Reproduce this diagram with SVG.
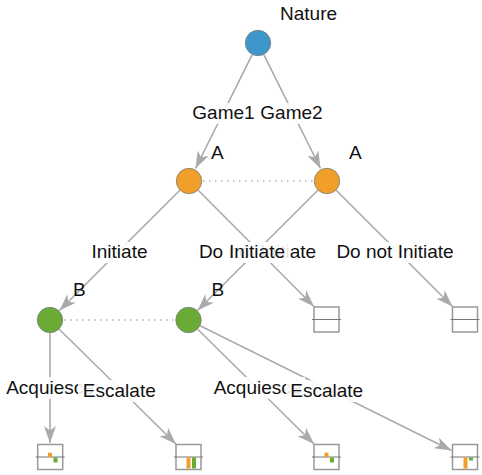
<svg xmlns="http://www.w3.org/2000/svg" width="482" height="475" viewBox="0 0 482 475">
<defs>
<marker id="arr" viewBox="0 0 17 12" refX="17" refY="6" markerWidth="17" markerHeight="12" markerUnits="userSpaceOnUse" orient="auto">
<path d="M0,0 L17,6 L0,12 L4.5,6 Z" fill="#aaaaaa"/>
</marker>
<style>
.e{stroke:#aaaaaa;stroke-width:1.6;fill:none;marker-end:url(#arr)}
.d{stroke:#b0b0b0;stroke-width:1.7;stroke-dasharray:1.5 4.5;fill:none}
.t{font-family:"Liberation Sans",Arial,sans-serif;font-size:19px;fill:#111}
.lb{fill:#ffffff;fill-opacity:0.88}
.n{stroke:#7a7a7a;stroke-width:0.8}
.nat{fill:#3d97cb}
.pa{fill:#f0a02a}
.pb{fill:#6aab35}
.box{fill:#ffffff;stroke:#999999;stroke-width:1.5}
.ax{stroke:#777777;stroke-width:1}
.o{fill:#f0a02a}
.g{fill:#6aab35}
</style>
</defs>
<g id="connectors">
<line class="d" x1="203" y1="181" x2="313" y2="181"/>
<line class="d" x1="64" y1="320" x2="175" y2="320"/>
<line class="e" x1="252.2" y1="54.6" x2="195.5" y2="168.5"/>
<line class="e" x1="263.8" y1="54.6" x2="320.5" y2="168.5"/>
<line class="e" x1="179.8" y1="190.2" x2="59.5" y2="310.5"/>
<line class="e" x1="198.2" y1="190.2" x2="314" y2="306.5"/>
<line class="e" x1="317.8" y1="190.2" x2="197.5" y2="310.5"/>
<line class="e" x1="336.2" y1="190.2" x2="452.5" y2="306.5"/>
<line class="e" x1="50" y1="333" x2="50" y2="443"/>
<line class="e" x1="59.2" y1="329.2" x2="176" y2="444"/>
<line class="e" x1="197.7" y1="329.2" x2="314" y2="444"/>
<line class="e" x1="200.1" y1="325.8" x2="451.5" y2="450.5"/>
</g>
<g id="edge-labels">
<rect class="lb" x="189" y="103" width="67" height="21"/>
<text class="t" x="223.5" y="119" text-anchor="middle">Game1</text>
<rect class="lb" x="257" y="103" width="68" height="21"/>
<text class="t" x="291.5" y="119" text-anchor="middle">Game2</text>
<rect class="lb" x="87" y="242" width="65" height="21"/>
<text class="t" x="119.5" y="258" text-anchor="middle">Initiate</text>
<rect class="lb" x="193" y="242" width="129" height="21"/>
<text class="t" x="257.5" y="258" text-anchor="middle">Do not Initiate</text>
<rect class="lb" x="225" y="242" width="64" height="21"/>
<text class="t" x="257" y="258" text-anchor="middle">Initiate</text>
<rect class="lb" x="331" y="242" width="128" height="21"/>
<text class="t" x="395" y="258" text-anchor="middle">Do not Initiate</text>
<rect class="lb" x="3" y="377" width="94" height="22"/>
<text class="t" x="50" y="393.5" text-anchor="middle">Acquiesce</text>
<rect class="lb" x="78" y="380" width="82" height="22"/>
<text class="t" x="119.3" y="396.7" text-anchor="middle">Escalate</text>
<rect class="lb" x="211" y="377" width="94" height="22"/>
<text class="t" x="257.5" y="393.5" text-anchor="middle">Acquiesce</text>
<rect class="lb" x="286" y="380" width="82" height="22"/>
<text class="t" x="326.7" y="396.7" text-anchor="middle">Escalate</text>
</g>
<g id="nature">
<circle class="n nat" cx="258" cy="43" r="12.7"/>
<text class="t" x="280" y="20">Nature</text>
</g>
<g id="A1">
<circle class="n pa" cx="189" cy="181" r="12.7"/>
<text class="t" x="211" y="159.3">A</text>
</g>
<g id="A2">
<circle class="n pa" cx="327" cy="181" r="12.7"/>
<text class="t" x="349" y="159.3">A</text>
</g>
<g id="B1">
<circle class="n pb" cx="50" cy="320" r="12.7"/>
<text class="t" x="73" y="296">B</text>
</g>
<g id="B2">
<circle class="n pb" cx="188.5" cy="320" r="12.7"/>
<text class="t" x="211.5" y="296">B</text>
</g>
<g id="T1">
<rect class="box" x="314" y="307" width="25" height="25"/>
<line class="ax" x1="312" y1="319.5" x2="341" y2="319.5"/>
</g>
<g id="T2">
<rect class="box" x="452.5" y="307" width="25" height="25"/>
<line class="ax" x1="450.5" y1="319.5" x2="479.5" y2="319.5"/>
</g>
<g id="T3">
<rect class="box" x="37.7" y="444.5" width="25" height="25"/>
<line class="ax" x1="35.7" y1="457" x2="64.7" y2="457"/>
<rect class="o" x="48" y="452.7" width="4" height="4.3"/>
<rect class="g" x="53.5" y="457.5" width="4" height="5"/>
</g>
<g id="T4">
<rect class="box" x="176" y="444.5" width="25" height="25"/>
<line class="ax" x1="174" y1="457" x2="203" y2="457"/>
<rect class="o" x="186.5" y="457.5" width="4" height="11"/>
<rect class="g" x="192" y="457.5" width="4" height="11"/>
</g>
<g id="T5">
<rect class="box" x="314" y="444.5" width="25" height="25"/>
<line class="ax" x1="312" y1="457" x2="341" y2="457"/>
<rect class="o" x="324.5" y="452.7" width="4" height="4.3"/>
<rect class="g" x="330" y="457.5" width="4" height="5"/>
</g>
<g id="T6">
<rect class="box" x="452.5" y="444.5" width="25" height="25"/>
<line class="ax" x1="450.5" y1="457" x2="479.5" y2="457"/>
<rect class="o" x="463.5" y="457.5" width="4" height="11"/>
<rect class="g" x="469" y="457.5" width="4" height="3"/>
</g>
</svg>
